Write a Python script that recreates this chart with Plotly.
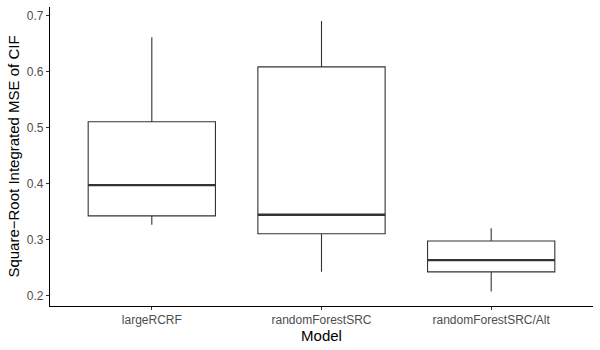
import plotly.graph_objects as go

# boxplot summary per model
models = ["largeRCRF", "randomForestSRC", "randomForestSRC/Alt"]
lower = [0.327, 0.243, 0.208]
q1 = [0.343, 0.311, 0.243]
median = [0.398, 0.345, 0.264]
q3 = [0.511, 0.609, 0.298]
upper = [0.662, 0.691, 0.321]

y_ticks = [0.2, 0.3, 0.4, 0.5, 0.6, 0.7]

fig = go.Figure()

# main boxes
fig.add_trace(go.Box(
    x=models, q1=q1, median=median, q3=q3,
    lowerfence=lower, upperfence=upper,
    width=0.75, whiskerwidth=0,
    fillcolor="white", line=dict(color="#333333", width=1.1),
    showlegend=False, hoverinfo="skip",
))
# thicker median line like ggplot
fig.add_trace(go.Box(
    x=models, q1=median, median=median, q3=median,
    lowerfence=median, upperfence=median,
    width=0.75, whiskerwidth=0,
    fillcolor="rgba(0,0,0,0)", line=dict(color="#333333", width=2.3),
    showlegend=False, hoverinfo="skip",
))

fig.update_layout(
    width=600, height=350,
    margin=dict(l=50, r=7, t=7, b=44),
    plot_bgcolor="white", paper_bgcolor="white",
    boxmode="overlay",
    font=dict(family="Liberation Sans, Arial, sans-serif", color="black"),
)
fig.update_xaxes(
    type="category", range=[-0.6, 2.6], automargin=False,
    showline=True, linecolor="black", linewidth=1.1,
    ticks="outside", ticklen=3, tickcolor="#333333", tickwidth=1.1,
    tickfont=dict(size=12, color="#4D4D4D"),
    showgrid=False, zeroline=False,
    title=dict(text="Model", font=dict(size=15), standoff=0),
)
fig.update_yaxes(
    range=[0.182, 0.716], tickvals=y_ticks, automargin=False,
    ticktext=[f"{v:.1f}" for v in y_ticks],
    showline=True, linecolor="black", linewidth=1.1,
    ticks="outside", ticklen=3, tickcolor="#333333", tickwidth=1.1,
    tickfont=dict(size=12, color="#4D4D4D"),
    showgrid=False, zeroline=False,
    title=dict(text="Square\u2212Root Integrated MSE of CIF", font=dict(size=15), standoff=3),
)

# drop the browser's default body margin so the figure sits at 0,0
fig.write_html("out.html", config={"displayModeBar": False},
               post_script="document.body.style.margin='0';")
